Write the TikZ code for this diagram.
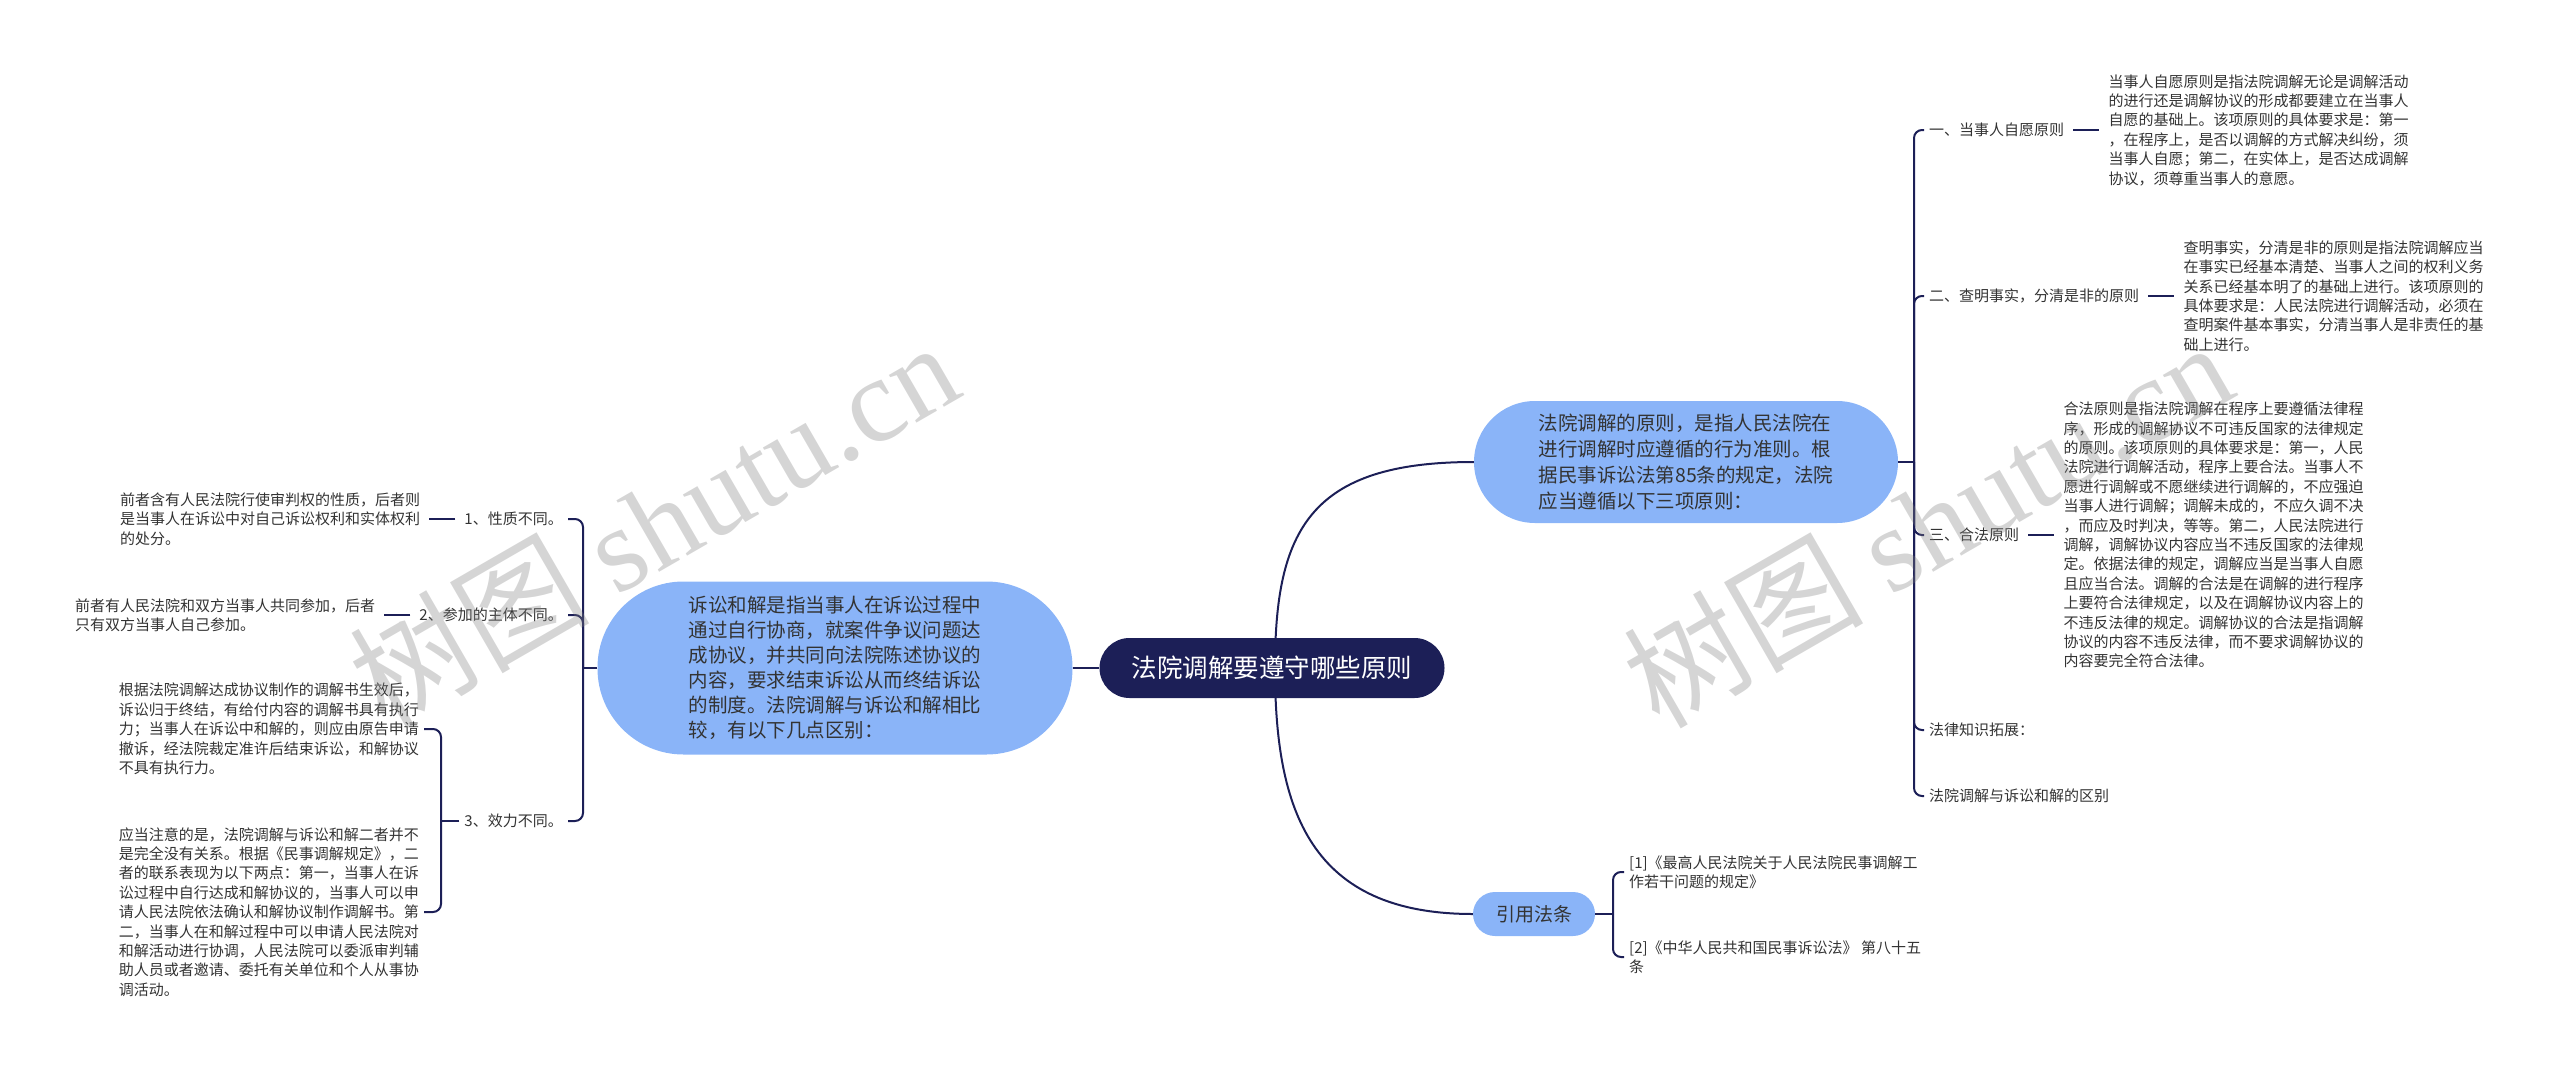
\documentclass[tikz,border=0pt]{standalone}
\usepackage{fontspec}
\newfontfamily\cjk{Noto Sans CJK SC}
\newfontfamily\wmserif{Liberation Serif}
\usetikzlibrary{positioning,backgrounds}
\definecolor{navy}{RGB}{28,31,87}
\definecolor{lblue}{RGB}{138,180,248}
\definecolor{txt}{RGB}{51,51,51}
\begin{document}
\begin{tikzpicture}[x=1pt,y=-1pt,
  every node/.style={font=\cjk},
  leaf/.style={inner xsep=5pt, inner ysep=2pt, align=left, text=txt, font=\cjk\fontsize{15}{19.4}\selectfont},
  conn/.style={draw=navy, line width=2pt},
  bracelink/.style={conn, rounded corners=8pt},
  stub/.style={conn, shorten <=4pt, shorten >=4pt},
  bubble/.style={fill=lblue, align=left, text=txt},
  wm/.style={rotate=30, text=gray, opacity=0.33, font=\fontsize{120}{120}\selectfont}
]
\useasboundingbox (0,0) rectangle (2560,1071);

% central node
\node[fill=navy, text=white, rounded corners=30pt, minimum width=345pt, minimum height=60pt,
      font=\cjk\fontsize{25.5}{30}\selectfont] (c) at (1272,668) {法院调解要遵守哪些原则};

% main branches
\node[bubble, rounded corners=61pt, minimum width=424pt, minimum height=122pt,
      font=\cjk\fontsize{19.5}{26}\selectfont] (R) at (1686,462)
  {法院调解的原则，是指人民法院在\\进行调解时应遵循的行为准则。根\\据民事诉讼法第85条的规定，法院\\应当遵循以下三项原则：};
\node[bubble, rounded corners=86pt, minimum width=475pt, minimum height=173pt,
      font=\cjk\fontsize{19.5}{25}\selectfont] (L) at (835,668)
  {诉讼和解是指当事人在诉讼过程中\\通过自行协商，就案件争议问题达\\成协议，并共同向法院陈述协议的\\内容，要求结束诉讼从而终结诉讼\\的制度。法院调解与诉讼和解相比\\较，有以下几点区别：};
\node[bubble, rounded corners=22pt, minimum width=122pt, minimum height=44pt,
      font=\cjk\fontsize{19}{22}\selectfont] (Y) at (1534,914) {引用法条};

% right branch children
\coordinate (JR) at (1914,462);
\node[leaf, anchor=west] (r1) at (1924,130) {一、当事人自愿原则};
\node[leaf, right=34pt of r1] (r1t) {当事人自愿原则是指法院调解无论是调解活动\\的进行还是调解协议的形成都要建立在当事人\\自愿的基础上。该项原则的具体要求是：第一\\，在程序上，是否以调解的方式解决纠纷，须\\当事人自愿；第二，在实体上，是否达成调解\\协议，须尊重当事人的意愿。};
\node[leaf, anchor=west] (r2) at (1924,296) {二、查明事实，分清是非的原则};
\node[leaf, right=34pt of r2] (r2t) {查明事实，分清是非的原则是指法院调解应当\\在事实已经基本清楚、当事人之间的权利义务\\关系已经基本明了的基础上进行。该项原则的\\具体要求是：人民法院进行调解活动，必须在\\查明案件基本事实，分清当事人是非责任的基\\础上进行。};
\node[leaf, anchor=west] (r3) at (1924,535) {三、合法原则};
\node[leaf, right=34pt of r3] (r3t) {合法原则是指法院调解在程序上要遵循法律程\\序，形成的调解协议不可违反国家的法律规定\\的原则。该项原则的具体要求是：第一，人民\\法院进行调解活动，程序上要合法。当事人不\\愿进行调解或不愿继续进行调解的，不应强迫\\当事人进行调解；调解未成的，不应久调不决\\，而应及时判决，等等。第二，人民法院进行\\调解，调解协议内容应当不违反国家的法律规\\定。依据法律的规定，调解应当是当事人自愿\\且应当合法。调解的合法是在调解的进行程序\\上要符合法律规定，以及在调解协议内容上的\\不违反法律的规定。调解协议的合法是指调解\\协议的内容不违反法律，而不要求调解协议的\\内容要完全符合法律。};
\node[leaf, anchor=west] (r4) at (1924,730) {法律知识拓展：};
\node[leaf, anchor=west] (r5) at (1924,796) {法院调解与诉讼和解的区别};

% citation children
\coordinate (JY) at (1613,914);
\node[leaf, anchor=west] (y1) at (1624,872) {[1]《最高人民法院关于人民法院民事调解工\\作若干问题的规定》};
\node[leaf, anchor=west] (y2) at (1624,957) {[2]《中华人民共和国民事诉讼法》 第八十五\\条};

% left branch children
\coordinate (JL) at (583,668);
\node[leaf, anchor=east] (l1) at (568,519) {1、性质不同。};
\node[leaf, left=34pt of l1] (l1t) {前者含有人民法院行使审判权的性质，后者则\\是当事人在诉讼中对自己诉讼权利和实体权利\\的处分。};
\node[leaf, anchor=east] (l2) at (568,615) {2、参加的主体不同。};
\node[leaf, left=34pt of l2] (l2t) {前者有人民法院和双方当事人共同参加，后者\\只有双方当事人自己参加。};
\node[leaf, anchor=east] (l3) at (568,821) {3、效力不同。};
\coordinate (J3) at (441,821);
\node[leaf, anchor=east] (l3a) at (424,729) {根据法院调解达成协议制作的调解书生效后，\\诉讼归于终结，有给付内容的调解书具有执行\\力；当事人在诉讼中和解的，则应由原告申请\\撤诉，经法院裁定准许后结束诉讼，和解协议\\不具有执行力。};
\node[leaf, anchor=east] (l3b) at (424,912) {应当注意的是，法院调解与诉讼和解二者并不\\是完全没有关系。根据《民事调解规定》，二\\者的联系表现为以下两点：第一，当事人在诉\\讼过程中自行达成和解协议的，当事人可以申\\请人民法院依法确认和解协议制作调解书。第\\二，当事人在和解过程中可以申请人民法院对\\和解活动进行协调，人民法院可以委派审判辅\\助人员或者邀请、委托有关单位和个人从事协\\调活动。};

\begin{pgfonlayer}{background}
\coordinate (cu) at (1275,668);
\draw[conn] (cu) .. controls (1275,530) and (1310,462) .. (R.west);
\draw[conn] (cu) .. controls (1275,810) and (1310,914) .. (Y.west);
\draw[conn] (c.west) -- (L.east);
\end{pgfonlayer}

% right brace
\draw[conn] (R.east) -- (JR);
\foreach \n in {r1,r2,r3,r4,r5} \draw[bracelink] (JR) |- (\n.west);
\draw[stub] (r1.east) -- (r1t.west);
\draw[stub] (r2.east) -- (r2t.west);
\draw[stub] (r3.east) -- (r3t.west);

% citation brace
\draw[conn] (Y.east) -- (JY);
\foreach \n in {y1,y2} \draw[bracelink] (JY) |- (\n.west);

% left brace
\draw[conn] (L.west) -- (JL);
\foreach \n in {l1,l2,l3} \draw[bracelink] (JL) |- (\n.east);
\draw[stub] (l1.west) -- (l1t.east);
\draw[stub] (l2.west) -- (l2t.east);
\draw[conn] (l3.west) -- (J3);
\foreach \n in {l3a,l3b} \draw[bracelink] (J3) |- (\n.east);

% watermarks
\node[wm] (wm1) at (653,523) {\cjk 树图 \wmserif shutu.cn};
\node[wm] (wm2) at (1927,523) {\cjk 树图 \wmserif shutu.cn};
\end{tikzpicture}
\end{document}
